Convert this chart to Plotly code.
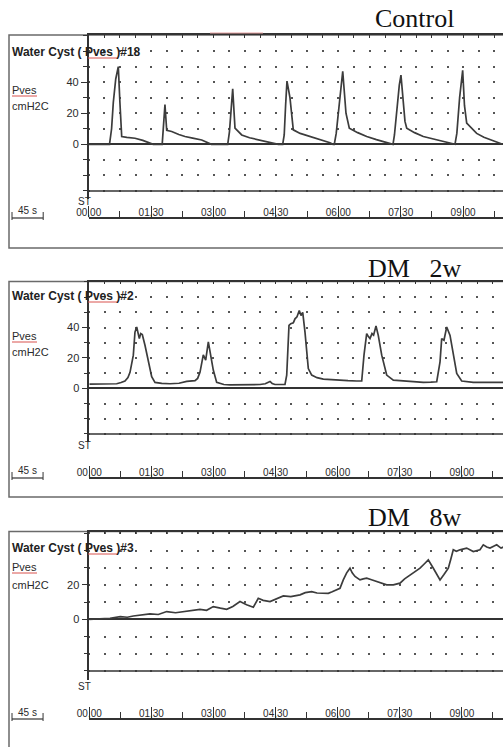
import plotly.graph_objects as go

W, H = 503, 747

# ---------------- data: time (s) and bladder pressure Pves (cmH2O) ----------------
CONTROL_T = [0, 30, 33, 35.5, 39, 42.7, 45, 47.6, 55, 66.8, 78, 88.4, 93,
             106, 108, 110, 112.5, 119.7, 130, 138.9, 150, 163, 177,
             200.5, 203, 205, 207.7, 211, 220.7, 232, 244.6, 260, 273.5,
             279.8, 282, 284, 286, 290.3, 295.1, 305, 319.2, 335, 348, 352.4,
             354.2, 357, 362, 366.4, 371.1, 375.9, 388, 401, 415, 429.8, 438.9,
             441, 445, 448, 450.4, 456.2, 458.7, 470, 482.6, 500, 516.4, 528.3,
             531, 535, 539.4, 542, 545.2, 559.6, 570, 583.6, 597]
CONTROL_P = [0, 0, 10, 27, 42, 50, 27, 5, 4.5, 3.9, 2.5, 0.6, 0,
             0, 12, 25.5, 9, 8.2, 6.3, 5, 4, 2.8, 0,
             0, 8, 22, 35.7, 10.4, 6, 4.2, 2.8, 1.4, 0,
             0, 6, 25, 40.6, 30, 9.3, 7, 5, 3, 1, 0,
             0, 7, 28, 47, 20, 10.4, 7.5, 5, 3, 1.3, 0,
             6, 25, 38, 44.5, 14.7, 10.4, 7.5, 5, 3, 1.3, 0,
             7, 30, 47.6, 25, 13.6, 7, 4.5, 2, 0]

DM2W_T = [0, 20, 39.7, 46, 51.7, 56, 59, 63.8, 66.2, 68.7, 70.5, 72.5, 74.5, 76.8, 80.7, 85.5, 90.4, 95.2,
          105, 117, 130, 141.2, 153.2, 157, 160.4, 165.2, 168.7, 172.5, 175.9, 179.7, 184.6,
          195, 203.9, 225, 247.4, 255, 261.9, 265, 269.1, 283.6,
          286.1, 289.4, 292, 295.7, 298.1, 301, 304.3, 306.8, 309.3, 312.6, 317.4, 322.3, 330, 339.1, 350, 363.3, 375, 387.5, 394.8,
          398.1, 402, 404.5, 406.8, 409.7, 412, 415.5, 418.8, 423.8, 431, 440.6, 450, 460, 472, 484.1, 495, 503.5,
          508.3, 510.7, 514, 515.5, 518, 522.8, 527.5, 532.5, 539.7, 548, 556.5, 575, 600]
DM2W_P = [2.8, 2.8, 3, 3.8, 4.8, 7, 10.5, 21.8, 37, 40.3, 36, 32.7, 36, 35.3, 28.3, 17.4, 7.6, 3.9,
          3.2, 3, 3.3, 4.5, 5, 6.5, 10.5, 22, 18.5, 30.5, 22.9, 12, 3.9,
          2.5, 2.2, 2.2, 2.5, 3, 4.5, 3.2, 2.5, 2.5,
          8.7, 41.4, 42.5, 43.1, 45.7, 47, 51.2, 47.9, 50, 37, 13, 8.7, 7, 6, 5.6, 5.4, 5, 4.8, 4.8,
          21.8, 36, 34, 32.7, 36, 35, 41, 34.8, 21.8, 8.7, 5.4, 5, 4.8, 4.2, 3.9, 4, 4.3,
          17.4, 32.7, 31.6, 35, 40.3, 34.8, 22.9, 9.8, 4.8, 4.2, 3.9, 3.9, 3.9]

DM8W_T = [0, 15, 30, 45, 55, 63.8, 75, 88, 100, 112.2, 125, 136.2, 148, 160.4, 170, 179.7, 190, 199.1, 208, 218.4,
          228, 237.7, 244.9, 252, 261.9, 270, 281.2, 292, 305.4, 313, 322.3, 330, 336.8, 346.4, 352, 358.6, 363.3,
          368.1, 373, 377.8, 381, 385.1, 392.3, 397, 402, 409, 416.5, 424, 431, 440.6, 450.3, 457, 464.8, 471, 479.3, 485, 491.3,
          498.6, 504, 508.3, 514, 520.3, 524, 527.5, 532, 537.2, 546.9, 552, 556.5, 566.2, 571, 576, 580.7, 586, 590.4, 596.7, 600]
DM8W_P = [0, 0.3, 0.6, 1.5, 1.2, 1.9, 2.6, 3.1, 2.8, 4.5, 3.8, 4.5, 5.2, 5.8, 5.2, 7.4, 6.5, 5.8, 7.5, 10.3,
          8.5, 7, 12.2, 11, 10.3, 11.8, 13.6, 13.2, 14.2, 15.5, 16.1, 15.3, 15.1, 15.1, 16, 17.1, 18,
          22.9, 27, 29.7, 27, 24.9, 22.9, 23.5, 23.9, 23, 21.9, 21, 20, 20, 21, 23.5, 25.8, 27.5, 29.7, 32, 34.6,
          29.7, 26, 22.9, 26, 29.7, 35, 40.4, 39.5, 40.4, 41.4, 40.5, 39.4, 40.4, 43.3, 42, 41.4, 42.5, 43.3, 41.4, 42]

PANEL_TITLES = ["Control", "DM   2w", "DM   8w"]
RECORD_TITLES = ["Water Cyst ( Pves )#18", "Water Cyst ( Pves )#2", "Water Cyst ( Pves )#3"]
Y_TICKS = [[0, 20, 40], [0, 20, 40], [0, 20]]
TIME_TICK_VALUES = [0, 90, 180, 270, 360, 450, 540]
TIME_TICK_LABELS = ["00,00", "01,30", "03,00", "04,30", "06,00", "07,30", "09,00"]
SCALE_BAR_S = 45
ST_LEVEL = -30

# ---------------- styling / geometry (pixels) ----------------
SANS = "Liberation Sans, Arial, sans-serif"
SERIF = "Liberation Serif, Times New Roman, serif"
AXIS = "#333333"
DOT = "#555555"
TXT = "#2a2a2a"
TRACE = "#3c3c3c"

GEOM = [
    dict(x0=88.7, pxs=0.6933, zero=144.3, sc=1.555, top=35.0, box_bot=248, axis=218,
         title_y=19, rec_y=52, pves_y=90, cm_y=106, st_y=201),
    dict(x0=89.3, pxs=0.690, zero=388.3, sc=1.52, top=281.5, box_bot=497, axis=478,
         title_y=268, rec_y=296, pves_y=336, cm_y=352, st_y=445),
    dict(x0=89.3, pxs=0.690, zero=619.3, sc=1.72, top=531.5, box_bot=770, axis=719,
         title_y=517, rec_y=548, pves_y=567, cm_y=585, st_y=686),
]


def px(x):
    return x / W


def py(y):
    return 1 - y / H


fig = go.Figure()
series = [(CONTROL_T, CONTROL_P), (DM2W_T, DM2W_P), (DM8W_T, DM8W_P)]
layout = {}
shapes = []
annotations = []

for k, (g, (t, p)) in enumerate(zip(GEOM, series)):
    i = k + 1
    sfx = "" if i == 1 else str(i)
    xname, yname = "x" + sfx, "y" + sfx
    j = i + 3
    fig.add_trace(go.Scatter(x=t, y=p, mode="lines", xaxis=xname, yaxis=yname,
                             line=dict(color=TRACE, width=1.7), hoverinfo="skip",
                             showlegend=False))
    # invisible copy so that the time-scale axis gets drawn
    fig.add_trace(go.Scatter(x=t, y=p, mode="lines", xaxis=f"x{j}", yaxis=yname,
                             line=dict(color="rgba(0,0,0,0)", width=0), hoverinfo="skip",
                             showlegend=False))
    xmax = (W - g["x0"]) / g["pxs"]
    ymax = (g["zero"] - g["top"]) / g["sc"]
    ymin = -35
    bot_px = g["zero"] - ymin * g["sc"]
    xdom = [px(g["x0"]), 1]
    ydom = [py(bot_px), py(g["top"])]
    period = 22.5 * g["pxs"]
    dash = f"1px,{period - 2:.2f}px,1px,0px"

    layout["xaxis" + sfx] = dict(
        domain=xdom, range=[0, xmax], anchor=yname, side="top", automargin=False,
        showline=True, linecolor=AXIS, linewidth=1.5,
        ticks="inside", ticklen=3, tickcolor=AXIS, tick0=0, dtick=22.5,
        showticklabels=False, showgrid=False, zeroline=False, fixedrange=True)
    layout["yaxis" + sfx] = dict(
        domain=ydom, range=[ymin, ymax], anchor=xname, automargin=False,
        showline=True, linecolor=AXIS, linewidth=1.5,
        ticks="outside", ticklen=6, tickcolor=AXIS, tickwidth=1,
        tickmode="array", tickvals=Y_TICKS[k],
        tickfont=dict(family=SANS, size=11, color=TXT),
        showgrid=True, gridcolor=DOT, gridwidth=2, griddash=dash,
        zeroline=True, zerolinecolor=AXIS, zerolinewidth=1.5,
        minor=dict(tickmode="linear", tick0=0, dtick=10, ticks="outside", ticklen=4,
                   tickcolor=AXIS, showgrid=True, gridcolor=DOT, gridwidth=2,
                   griddash=dash),
        fixedrange=True)
    layout[f"xaxis{j}"] = dict(
        domain=xdom, range=[0, xmax], overlaying=xname, anchor="free", automargin=False,
        position=py(g["axis"]), side="top",
        showline=True, linecolor=AXIS, linewidth=1.5,
        ticks="outside", ticklen=11, tickcolor=AXIS, tickwidth=1,
        tickmode="array", tickvals=TIME_TICK_VALUES, ticktext=TIME_TICK_LABELS,
        ticklabelstandoff=-14,
        tickfont=dict(family=SANS, size=10, color=TXT),
        minor=dict(tickmode="linear", tick0=0, dtick=45, ticks="outside", ticklen=6,
                   tickcolor=AXIS),
        showgrid=False, zeroline=False, fixedrange=True)

    # panel frame
    shapes.append(dict(type="rect", xref="paper", yref="paper",
                       x0=px(9), x1=px(W + 10), y0=py(g["box_bot"]), y1=py(g["top"]),
                       line=dict(color="#6a6a6a", width=1.5), layer="below"))
    # ST channel baseline
    shapes.append(dict(type="line", xref=xname, yref=yname, x0=0, x1=xmax,
                       y0=ST_LEVEL, y1=ST_LEVEL, line=dict(color=AXIS, width=1.5)))
    # 45 s scale bar
    bx0 = 12
    bx1 = bx0 + SCALE_BAR_S * g["pxs"]
    ay = g["axis"]
    shapes.append(dict(type="line", xref="paper", yref="paper", x0=px(bx0), x1=px(bx1),
                       y0=py(ay), y1=py(ay), line=dict(color=AXIS, width=1.2)))
    for bx in (bx0, bx1):
        shapes.append(dict(type="line", xref="paper", yref="paper", x0=px(bx), x1=px(bx),
                           y0=py(ay + 2), y1=py(ay - 6), line=dict(color=AXIS, width=1)))
    # red spell-check underlines
    shapes.append(dict(type="line", xref="paper", yref="paper", x0=px(12), x1=px(37),
                       y0=py(g["pves_y"] + 6), y1=py(g["pves_y"] + 6),
                       line=dict(color="#d9534f", width=1)))
    shapes.append(dict(type="line", xref="paper", yref="paper", x0=px(88), x1=px(118),
                       y0=py(g["rec_y"] + 6), y1=py(g["rec_y"] + 6),
                       line=dict(color="#d9534f", width=1)))

    annotations += [
        dict(text=PANEL_TITLES[k], x=px(414), y=py(g["title_y"]), xanchor="center",
             yanchor="middle", font=dict(family=SERIF, size=26, color="#111111")),
        dict(text="<b>" + RECORD_TITLES[k] + "</b>", x=px(10), y=py(g["rec_y"]),
             xanchor="left", yanchor="middle", font=dict(family=SANS, size=12, color="#222222")),
        dict(text="Pves", x=px(10), y=py(g["pves_y"]), xanchor="left", yanchor="middle",
             font=dict(family=SANS, size=11, color=TXT)),
        dict(text="cmH2C", x=px(10), y=py(g["cm_y"]), xanchor="left", yanchor="middle",
             font=dict(family=SANS, size=11, color=TXT)),
        dict(text="ST", x=px(84), y=py(g["st_y"]), xanchor="center", yanchor="middle",
             font=dict(family=SANS, size=10, color=TXT), borderpad=0),
        dict(text="45 s", x=px((bx0 + bx1) / 2), y=py(ay - 7), xanchor="center",
             yanchor="middle", font=dict(family=SANS, size=10, color=TXT)),
    ]

for a in annotations:
    a.update(xref="paper", yref="paper", showarrow=False)

# faint pink mark on the top frame of the first record
shapes.append(dict(type="line", xref="paper", yref="paper", x0=px(210), x1=px(263),
                   y0=py(33), y1=py(33), line=dict(color="#e8a0a0", width=1)))

layout.update(width=W, height=H, margin=dict(l=0, r=0, t=0, b=0, pad=0, autoexpand=False),
              paper_bgcolor="white", plot_bgcolor="rgba(0,0,0,0)",
              showlegend=False, shapes=shapes, annotations=annotations)
fig.update_layout(**layout)
fig.write_html("out.html", config={"displayModeBar": False},
               post_script="document.body.style.margin='0px';")
